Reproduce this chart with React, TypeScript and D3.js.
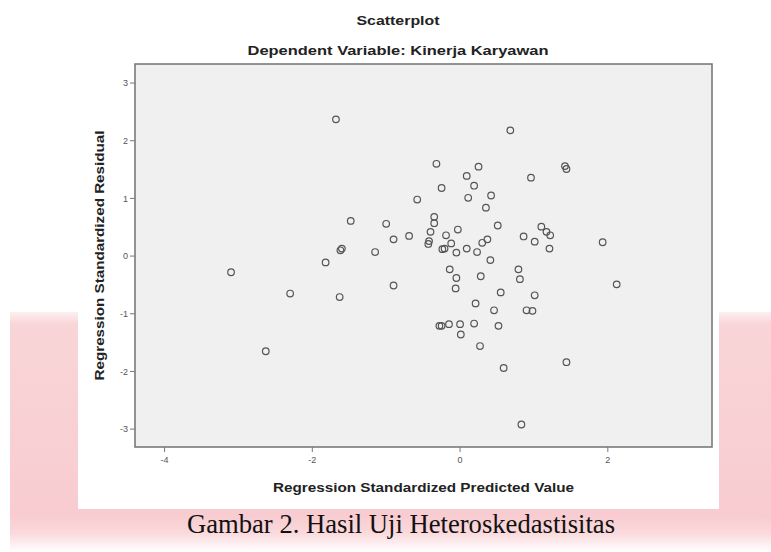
import React from 'react'
import * as d3 from 'd3'

// regression standardized predicted value (x) and residual (y)
const predicted = [
  -3.10, -2.63, -2.30, -1.82, -1.68, -1.62, -1.60, -1.63, -1.48, -1.15,
  -1.00, -0.90, -0.90, -0.69, -0.58, -0.35, -0.35, -0.40, -0.42, -0.43,
  -0.32, -0.25, -0.24, -0.21, -0.19, -0.12, -0.03, -0.05, -0.14, -0.05,
  -0.06, -0.28, -0.25, -0.15, 0.00, 0.01, 0.09, 0.19, 0.25, 0.11,
  0.42, 0.35, 0.68, 0.51, 0.09, 0.23, 0.30, 0.37, 0.41, 0.28,
  0.21, 0.19, 0.27, 0.46, 0.52, 0.55, 0.59, 0.79, 0.81, 0.83,
  0.86, 0.90, 0.98, 0.96, 1.01, 1.01, 1.10, 1.17, 1.22, 1.21,
  1.42, 1.44, 1.44, 1.93, 2.12,
]
const residual = [
  -0.28, -1.65, -0.65, -0.11, 2.37, 0.10, 0.13, -0.71, 0.61, 0.07,
  0.56, 0.29, -0.51, 0.35, 0.98, 0.68, 0.57, 0.42, 0.26, 0.21,
  1.60, 1.18, 0.12, 0.13, 0.36, 0.22, 0.46, 0.06, -0.23, -0.38,
  -0.56, -1.21, -1.21, -1.18, -1.18, -1.36, 1.39, 1.22, 1.55, 1.01,
  1.05, 0.84, 2.18, 0.53, 0.13, 0.07, 0.23, 0.29, -0.07, -0.35,
  -0.82, -1.17, -1.56, -0.94, -1.21, -0.63, -1.94, -0.23, -0.40, -2.92,
  0.34, -0.94, -0.95, 1.36, 0.25, -0.68, 0.51, 0.42, 0.36, 0.13,
  1.56, 1.51, -1.84, 0.24, -0.49,
]
const xTicks = [-4, -2, 0, 2]
const yTicks = [3, 2, 1, 0, -1, -2, -3]

const title = 'Scatterplot'
const subtitle = 'Dependent Variable: Kinerja Karyawan'
const xTitle = 'Regression Standardized Predicted Value'
const yTitle = 'Regression Standardized Residual'
const caption = 'Gambar 2. Hasil Uji Heteroskedastisitas'

export default function App() {
  const W = 771
  const H = 552
  const plot = { left: 135, right: 712, top: 64, bottom: 447 }

  const x = d3.scaleLinear().domain([-4.4, 3.41]).range([plot.left, plot.right])
  const y = d3.scaleLinear().domain([-3.31, 3.33]).range([plot.bottom, plot.top])

  const points = d3.zip(predicted, residual)
  const sans = 'Arial, "Liberation Sans", sans-serif'

  return (
    <div style={{ position: 'fixed', left: 0, top: 0 }}>
      <svg width={W} height={H} style={{ display: 'block', background: '#fff' }}>
        <defs>
          <linearGradient id="pink" x1="0" y1="0" x2="0" y2="1">
            <stop offset="0" stopColor="#fdeff0" />
            <stop offset="0.05" stopColor="#f9d5d8" />
            <stop offset="0.85" stopColor="#f8ccd0" />
            <stop offset="0.92" stopColor="#fad9dc" />
            <stop offset="1" stopColor="#ffffff" />
          </linearGradient>
        </defs>

        {/* pink page band behind the figure */}
        <rect x={10} y={312} width={W - 10} height={240} fill="url(#pink)" />
        <rect x={78} y={0} width={641} height={509} fill="#fff" />

        <text x={398} y={25} textAnchor="middle" fontFamily={sans} fontWeight="bold"
          fontSize={13.5} fill="#222" textLength={83} lengthAdjust="spacingAndGlyphs">{title}</text>
        <text x={398} y={55} textAnchor="middle" fontFamily={sans} fontWeight="bold"
          fontSize={13.5} fill="#222" textLength={301} lengthAdjust="spacingAndGlyphs">{subtitle}</text>

        <rect x={plot.left} y={plot.top} width={plot.right - plot.left} height={plot.bottom - plot.top}
          fill="#f0f0f0" stroke="#7a7a7a" strokeWidth={1.6} />

        {yTicks.map(t => (
          <g key={'y' + t} transform={`translate(${plot.left},${y(t)})`}>
            <line x1={-5} x2={0} stroke="#777" strokeWidth={1} />
            <text x={-7} dy="0.35em" textAnchor="end" fontFamily={sans} fontSize={9} fill="#555">{t}</text>
          </g>
        ))}
        {xTicks.map(t => (
          <g key={'x' + t} transform={`translate(${x(t)},${plot.bottom})`}>
            <line y1={0} y2={5} stroke="#777" strokeWidth={1} />
            <text y={16} textAnchor="middle" fontFamily={sans} fontSize={9} fill="#555">{t}</text>
          </g>
        ))}

        {points.map(([px, py], i) => (
          <circle key={i} cx={x(px)} cy={y(py)} r={3.3} fill="none" stroke="#555" strokeWidth={1.2} />
        ))}

        <text x={(plot.left + plot.right) / 2} y={492} textAnchor="middle" fontFamily={sans}
          fontWeight="bold" fontSize={13.5} fill="#222" textLength={301}
          lengthAdjust="spacingAndGlyphs">{xTitle}</text>
        <text transform={`translate(104,${(plot.top + plot.bottom) / 2}) rotate(-90)`} textAnchor="middle"
          fontFamily={sans} fontWeight="bold" fontSize={13.5} fill="#222" textLength={250}
          lengthAdjust="spacingAndGlyphs">{yTitle}</text>

        <text x={401} y={533} textAnchor="middle" fontFamily='"Liberation Serif", "Times New Roman", serif'
          fontSize={26.5} fill="#111" textLength={428} lengthAdjust="spacingAndGlyphs">{caption}</text>
      </svg>
    </div>
  )
}
